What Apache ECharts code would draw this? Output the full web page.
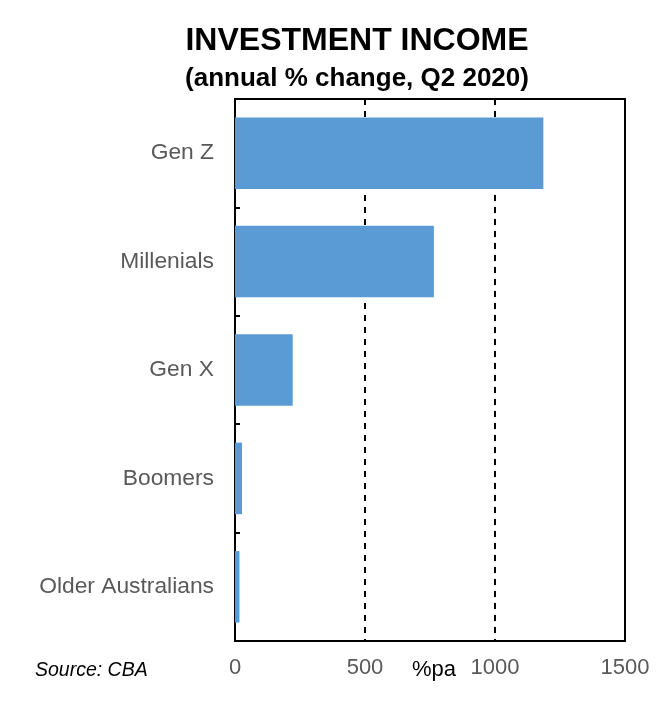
<!DOCTYPE html>
<html>
<head>
<meta charset="utf-8">
<script src="https://cdn.jsdelivr.net/npm/echarts@6/dist/echarts.min.js"></script>
<style>html,body{margin:0;padding:0;background:#fff;}#c{width:665px;height:711px;}</style>
</head>
<body>
<div id="c"></div>
<script>
const categories = ["Gen Z", "Millenials", "Gen X", "Boomers", "Older Australians"];
const values = [1186, 765, 222, 27, 17];
const xTicks = [0, 500, 1000, 1500];

const chart = echarts.init(document.getElementById('c'), null, {renderer: 'canvas'});
const font = '"Liberation Sans", Arial, sans-serif';
chart.setOption({
  animation: false,
  backgroundColor: '#fff',
  title: [
    {text: 'INVESTMENT INCOME', left: 352, textAlign: 'center', top: 20,
     textStyle: {fontFamily: font, fontSize: 32, fontWeight: 'bold', color: '#000'}},
    {text: '(annual % change, Q2 2020)', left: 352, textAlign: 'center', top: 61,
     textStyle: {fontFamily: font, fontSize: 26, fontWeight: 'bold', color: '#000'}}
  ],
  grid: {left: 235, right: 40, top: 99, bottom: 70, show: true, borderColor: '#000', borderWidth: 2, backgroundColor: 'transparent'},
  xAxis: {
    type: 'value', min: xTicks[0], max: xTicks[xTicks.length - 1], interval: 500,
    axisLine: {show: false}, axisTick: {show: false},
    axisLabel: {fontFamily: font, fontSize: 22, color: '#595959', margin: 16, formatter: function (v) { return String(v); }},
    splitLine: {show: true, lineStyle: {color: '#000', width: 2, type: [6, 6]}}
  },
  yAxis: {
    type: 'category', data: categories, inverse: true,
    axisLine: {show: true, lineStyle: {color: '#000', width: 2}},
    axisTick: {show: true, inside: true, length: 5, lineStyle: {color: '#000', width: 2}},
    axisLabel: {fontFamily: font, fontSize: 22.8, color: '#595959', margin: 21}
  },
  series: [{
    type: 'bar', data: values, barCategoryGap: '34%',
    itemStyle: {color: '#5B9BD5'}
  }],
  graphic: [
    {type: 'text', left: 35, top: 661, style: {text: 'Source: CBA', fontFamily: font, fontSize: 19.5, fontStyle: 'italic', fill: '#000'}},
    {type: 'text', left: 412, top: 659, style: {text: '%pa', fontFamily: font, fontSize: 22, fill: '#000'}}
  ]
});
</script>
</body>
</html>
